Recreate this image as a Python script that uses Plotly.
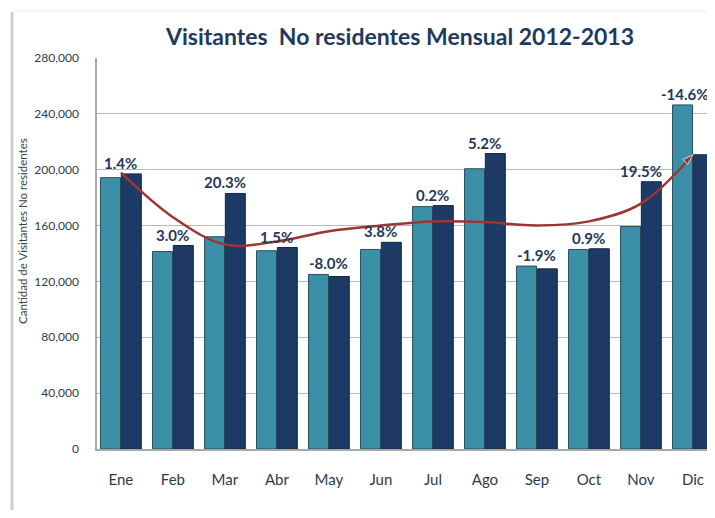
import plotly.graph_objects as go

months = ["Ene", "Feb", "Mar", "Abr", "May", "Jun", "Jul", "Ago", "Sep", "Oct", "Nov", "Dic"]
visitors_2012 = [194300, 141400, 152000, 142000, 125000, 142900, 173600, 200700, 131000, 142900, 159300, 246400]
visitors_2013 = [197000, 145700, 183000, 144300, 123500, 148000, 174300, 211600, 129000, 143400, 191400, 210700]
pct_labels = ["1.4%", "3.0%", "20.3%", "1.5%", "-8.0%", "3.8%", "0.2%", "5.2%", "-1.9%", "0.9%", "19.5%", "-14.6%"]
trend_values = [197900, 166000, 146400, 148600, 156000, 160000, 163000, 162500, 160000, 163000, 175700, 210700]
y_ticks = [0, 40000, 80000, 120000, 160000, 200000, 240000, 280000]

# page is shown with an 8px body margin: screen = figure + 8
OFF = 8
W, H = 715 - OFF, 518 - 2 * OFF
L, R, T, B = 97 - OFF, 0, 58 - OFF, H - (449 - OFF)
pw, ph = W - L - R, H - T - B
CAT_PX = 52.0
X0 = -0.46

def px_x(s):
    return (s - OFF - L) / pw

def px_y(s):
    return (H - B - (s - OFF)) / ph

fig = go.Figure()
fig.add_trace(go.Bar(
    x=months, y=visitors_2012, name="2012",
    marker=dict(color="#3b8fa7", line=dict(color="#2b4f5e", width=1)),
))
fig.add_trace(go.Bar(
    x=months, y=visitors_2013, name="2013",
    marker=dict(color="#1d3b66", line=dict(color="#16263d", width=1)),
))
symbols = ["circle"] + ["circle"] * (len(months) - 2) + ["arrow"]
sizes = [9] + [0] * (len(months) - 2) + [11]
fig.add_trace(go.Scatter(
    x=months, y=trend_values, mode="lines+markers",
    line=dict(color="#a03530", width=2.5, shape="spline", smoothing=1.0),
    marker=dict(symbol=symbols, size=sizes, color="#a03530", angleref="previous"),
    hoverinfo="skip", cliponaxis=False,
))

label_y = [max(a, b) for a, b in zip(visitors_2012, visitors_2013)]
for i, (m, yv, t) in enumerate(zip(months, label_y, pct_labels)):
    fig.add_annotation(
        x=m, y=yv, text=t, showarrow=False, yanchor="bottom",
        xshift=(-8 if i == len(months) - 1 else 0), yshift=0,
        font=dict(family="Lato", size=15, color="#24385a", weight="bold"),
    )

# outer chart frame
fig.add_shape(type="line", xref="paper", yref="paper",
              x0=px_x(12), x1=px_x(12), y0=px_y(12), y1=px_y(540),
              line=dict(color="#cfcfcf", width=3))
fig.add_shape(type="line", xref="paper", yref="paper",
              x0=px_x(12), x1=px_x(730), y0=px_y(11), y1=px_y(11),
              line=dict(color="#ececec", width=1))

fig.add_annotation(
    text="Cantidad de Visitantes No residentes", textangle=-90,
    xref="paper", yref="paper", x=px_x(23), y=px_y(231),
    xanchor="center", yanchor="middle",
    showarrow=False, font=dict(family="Lato", size=11.5, color="#3a4656"),
)

fig.update_layout(
    width=W, height=H,
    margin=dict(l=L, r=R, t=T, b=B),
    paper_bgcolor="white", plot_bgcolor="white",
    barmode="group", bargap=0.2, bargroupgap=0.04,
    showlegend=False,
    title=dict(
        text="Visitantes\u00a0 No residentes Mensual 2012-2013",
        xref="container", yref="container",
        x=(400 - OFF) / W, xanchor="center", y=1 - (37 - OFF) / H, yanchor="middle",
        font=dict(family="Lato", size=23, color="#1f3a5f", weight="bold"),
    ),
    xaxis=dict(
        range=[X0, X0 + pw / CAT_PX], showgrid=False, ticks="",
        showline=True, linecolor="#a8a8a8", linewidth=1.5,
        tickfont=dict(family="Lato", size=15, color="#2d3a4e"),
        ticklabelstandoff=16,
    ),
    yaxis=dict(
        range=[0, 280000], tickvals=y_ticks, tickformat=",",
        showgrid=True, gridcolor="#b8b8b8", gridwidth=1,
        showline=True, linecolor="#a8a8a8", linewidth=1.5,
        ticks="", zeroline=False,
        tickfont=dict(family="Lato", size=12, color="#2d3a4e"),
        ticklabelstandoff=14,
    ),
)

fig.write_html("out.html")
